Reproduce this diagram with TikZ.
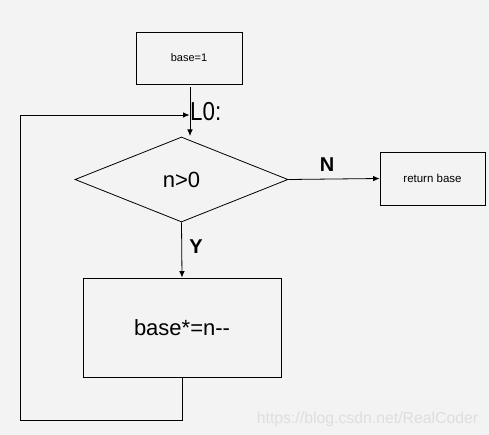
\documentclass[tikz,border=0pt]{standalone}
\usepackage{fontspec}
\setmainfont{Liberation Sans}
\usetikzlibrary{shapes.geometric,arrows.meta}
\definecolor{bgc}{RGB}{243,243,243}
\definecolor{wmc}{RGB}{222,222,222}
\tikzset{
  box/.style={draw, line width=0.8pt, rectangle, inner sep=0pt},
  cond/.style={draw, line width=0.8pt, diamond, inner sep=0pt, aspect=2.5},
  conn/.style={line width=0.8pt},
  arr/.style={conn, -{Latex[length=6.5pt,width=5.5pt]}},
  lbl/.style={inner sep=0pt, font=\bfseries\fontsize{20}{22}\selectfont}
}
\begin{document}
\begin{tikzpicture}[x=1pt,y=-1pt]
  \fill[bgc] (0,0) rectangle (489,435);
  \useasboundingbox (0,0) rectangle (489,435);
  % nodes
  \node[box, minimum width=106pt, minimum height=52pt, font=\fontsize{11}{13}\selectfont] (b1) at (189,58) {base=1};
  \node[cond, minimum width=213pt, minimum height=85pt, font=\fontsize{22}{24}\selectfont] (d) at (181.5,179.5) {n>0};
  \node[box, minimum width=105pt, minimum height=53pt, font=\fontsize{11.5}{13}\selectfont] (ret) at (432.5,178.5) {return base};
  \node[box, minimum width=198pt, minimum height=99pt, font=\fontsize{22}{24}\selectfont] (body) at (182,327.5) {base*=n-{}-};
  % coordinates
  \coordinate (t1) at (190,87);
  \coordinate (t2) at (190,136);
  \coordinate (lp1) at (182,420);
  \coordinate (lp2) at (20,420);
  \coordinate (lp3) at (20,115);
  \coordinate (lp4) at (189.5,115);
  % connectors
  \draw[arr] (t1) -- (t2);
  \draw[arr] (d.east) -- (ret.west);
  \draw[arr] (d.south) -- (body.north);
  \draw[conn] (body.south) -- (lp1) -- (lp2) -- (lp3);
  \draw[arr] (lp3) -- (lp4);
  % labels
  \node[anchor=west, inner sep=0pt, xscale=0.86, font=\fontsize{26}{28}\selectfont] (l0) at (190,112) {L0:};
  \node[lbl] (nl) at (327,165) {N};
  \node[lbl] (yl) at (196,247) {Y};
  \node[inner sep=0pt, text=wmc, font=\fontsize{15.8}{17}\selectfont] (wm) at (367.5,419) {https://blog.csdn.net/RealCoder};
\end{tikzpicture}
\end{document}
